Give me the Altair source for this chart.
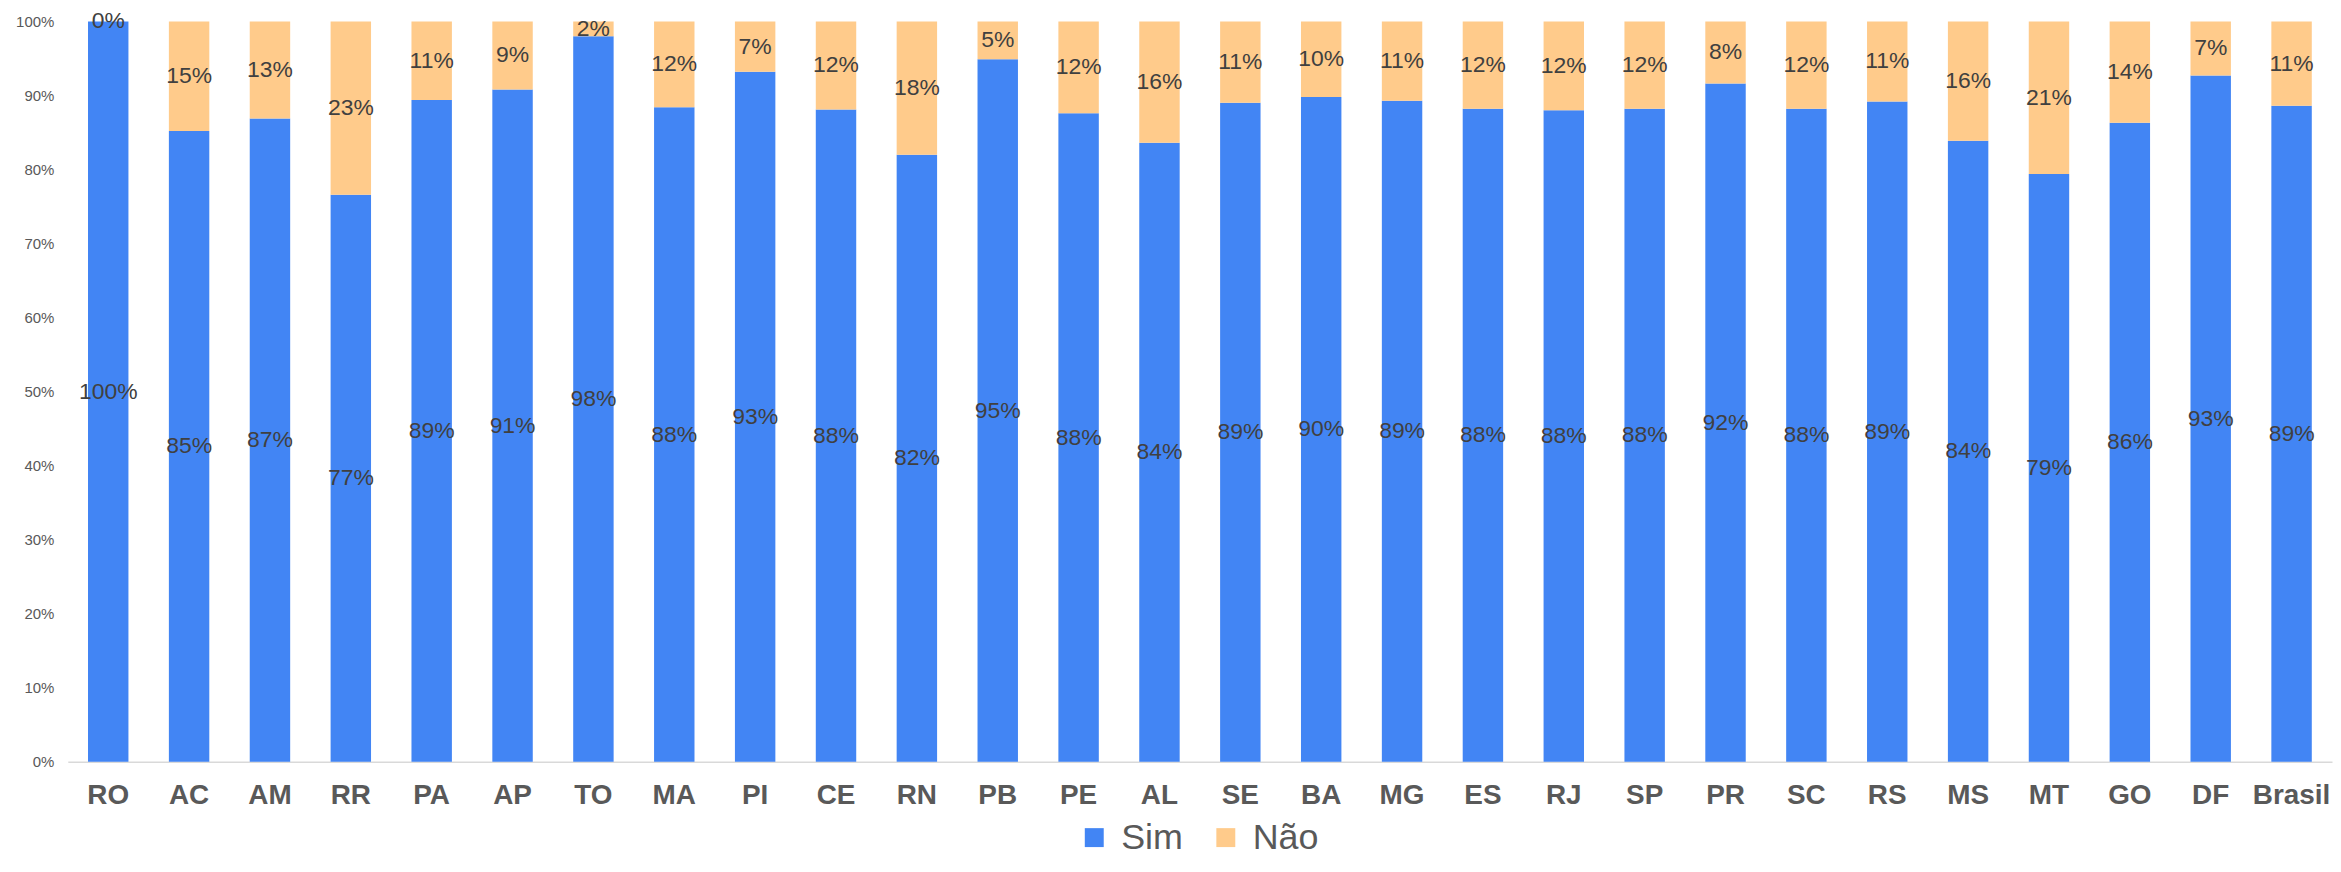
import altair as alt
import pandas as pd

estados = ["RO", "AC", "AM", "RR", "PA", "AP", "TO", "MA", "PI", "CE", "RN", "PB", "PE", "AL",
           "SE", "BA", "MG", "ES", "RJ", "SP", "PR", "SC", "RS", "MS", "MT", "GO", "DF", "Brasil"]
sim = [1.000, 0.852, 0.869, 0.766, 0.894, 0.908, 0.980, 0.884, 0.932, 0.881, 0.820, 0.949, 0.876, 0.836,
       0.890, 0.898, 0.893, 0.882, 0.880, 0.882, 0.916, 0.882, 0.892, 0.839, 0.794, 0.863, 0.927, 0.886]
nao = [0.000, 0.148, 0.131, 0.234, 0.106, 0.092, 0.020, 0.116, 0.068, 0.119, 0.180, 0.051, 0.124, 0.164,
       0.110, 0.102, 0.107, 0.118, 0.120, 0.118, 0.084, 0.118, 0.108, 0.161, 0.206, 0.137, 0.073, 0.114]
respostas = ["Sim", "Não"]
cores = ["#4285F4", "#FFCB8B"]
y_ticks = [0, 0.1, 0.2, 0.3, 0.4, 0.5, 0.6, 0.7, 0.8, 0.9, 1.0]

rows = []
for e, s, n in zip(estados, sim, nao):
    rows.append({"estado": e, "resposta": "Sim", "valor": s, "ordem": 0})
    rows.append({"estado": e, "resposta": "Não", "valor": n, "ordem": 1})
df = pd.DataFrame(rows)

FONT = "Liberation Sans"

x_enc = alt.X(
    "estado:N", sort=estados,
    scale=alt.Scale(paddingInner=0.5, paddingOuter=0.25),
    axis=alt.Axis(title=None, labelAngle=0, labelFont=FONT, labelFontWeight="bold",
                  labelFontSize=28, labelColor="#595959", ticks=False, labelPadding=20,
                  domainColor="#d9d9d9", domainWidth=1.5, grid=False),
)

base = alt.Chart(df)

bars = base.mark_bar().encode(
    x=x_enc,
    y=alt.Y("valor:Q", stack="zero", scale=alt.Scale(domain=[0, 1], nice=False),
            axis=alt.Axis(title=None, format=".0%", values=y_ticks, grid=False, domain=False,
                          ticks=False, labelPadding=14, labelFont=FONT, labelFontSize=15,
                          labelColor="#595959")),
    color=alt.Color("resposta:N",
                    scale=alt.Scale(domain=respostas, range=cores),
                    sort=respostas,
                    legend=alt.Legend(title=None, orient="none", direction="horizontal",
                                      legendX=1012, legendY=801,
                                      symbolType="square", symbolSize=361, symbolStrokeWidth=0,
                                      labelFont=FONT, labelFontSize=36, labelColor="#595959",
                                      labelOffset=9, columnPadding=25)),
    order=alt.Order("ordem:Q"),
)

labels = base.transform_stack(
    stack="valor", groupby=["estado"], as_=["v0", "v1"],
    sort=[alt.SortField("ordem", order="ascending")],
).transform_calculate(
    mid="(datum.v0 + datum.v1) / 2"
).mark_text(font=FONT, fontSize=23, color="#404040", baseline="middle", align="center").encode(
    x=x_enc,
    y=alt.Y("mid:Q", scale=alt.Scale(domain=[0, 1], nice=False)),
    text=alt.Text("valor:Q", format=".0%"),
)

chart = alt.layer(bars, labels).properties(
    width=2272, height=743,
    autosize=alt.AutoSizeParams(type="none"),
    padding={"left": 60, "top": 12, "right": 1, "bottom": 97},
).configure_view(stroke=None)

chart.save("out.html", embed_options={"renderer": "svg", "actions": False})
